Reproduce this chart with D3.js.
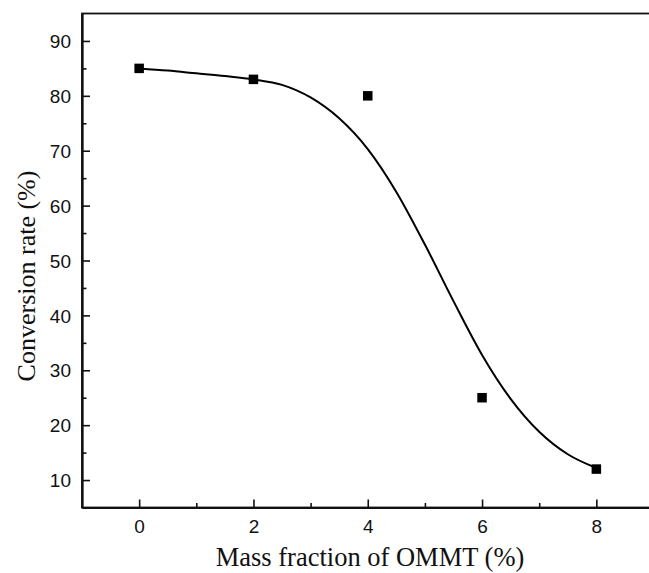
<!DOCTYPE html>
<html>
<head>
<meta charset="utf-8">
<script src="https://cdn.jsdelivr.net/npm/d3@7"></script>
<style>
  html, body { margin: 0; padding: 0; background: #fff; }
  svg { display: block; }
</style>
</head>
<body>
<svg id="chart" width="649" height="573"></svg>
<script>
// Measured conversion rate vs. OMMT mass fraction
const massFraction = [0, 2, 4, 6, 8];
const conversionRate = [85, 83, 80, 25, 12];

// Fitted sigmoidal trend line
const fitX = [0, 0.5, 1, 1.5, 2, 2.5, 3, 3.5, 4, 4.5, 5, 5.5, 6, 6.5, 7, 7.5, 8];
const fitY = [85.0, 84.6, 84.1, 83.6, 83.0, 82.0, 79.7, 75.9, 70.3, 62.5, 52.9, 42.6, 32.8, 24.8, 18.8, 14.7, 12.2];

// Axis ticks
const xMajorTicks = [0, 2, 4, 6, 8];
const xMinorTicks = [1, 3, 5, 7];
const yMajorTicks = [10, 20, 30, 40, 50, 60, 70, 80, 90];
const yMinorTicks = [15, 25, 35, 45, 55, 65, 75, 85];

const xTitle = "Mass fraction of OMMT (%)";
const yTitle = "Conversion rate (%)";

const svg = d3.select("#chart");
const plotLeft = 82, plotTop = 13.5, plotBottom = 507.5;
const xUnit = 57.15;

const x = d3.scaleLinear().domain([-1, 9]).range([plotLeft, plotLeft + 10 * xUnit]);
const y = d3.scaleLinear().domain([5, 95]).range([plotBottom, plotTop]);

const tickFont = "'Liberation Sans', Arial, sans-serif";
const titleFont = "'Liberation Serif', 'Times New Roman', serif";

// Frame (right edge falls beyond the canvas)
svg.append("rect")
  .attr("x", x(-1)).attr("y", y(95))
  .attr("width", x(9) - x(-1)).attr("height", y(5) - y(95))
  .attr("fill", "none").attr("stroke", "#111").attr("stroke-width", 1.8);

// Bottom axis
const gx = svg.append("g").attr("transform", `translate(0,${plotBottom})`);
gx.call(d3.axisBottom(x).tickValues(xMajorTicks).tickSizeInner(-8).tickSizeOuter(0).tickPadding(12.5).tickFormat(d3.format("d")));
gx.append("g").call(d3.axisBottom(x).tickValues(xMinorTicks).tickSizeInner(-4.5).tickSizeOuter(0).tickFormat(""));

// Left axis
const gy = svg.append("g").attr("transform", `translate(${plotLeft},0)`);
gy.call(d3.axisLeft(y).tickValues(yMajorTicks).tickSizeInner(-8).tickSizeOuter(0).tickPadding(11).tickFormat(d3.format("d")));
gy.append("g").call(d3.axisLeft(y).tickValues(yMinorTicks).tickSizeInner(-4.5).tickSizeOuter(0).tickFormat(""));

svg.selectAll(".domain").attr("stroke", "#111").attr("stroke-width", 1.8);
svg.selectAll(".tick line").attr("stroke", "#111").attr("stroke-width", 1.6);
svg.selectAll(".tick text")
  .attr("font-family", tickFont).attr("font-size", 19).attr("fill", "#111");
gy.selectAll(".tick text").attr("dy", "0.35em");

// Fitted curve
const fitData = fitX.map((d, i) => ({ x: d, y: fitY[i] }));
svg.append("path")
  .datum(fitData)
  .attr("fill", "none")
  .attr("stroke", "#000")
  .attr("stroke-width", 2)
  .attr("d", d3.line().x(d => x(d.x)).y(d => y(d.y)).curve(d3.curveMonotoneX));

// Data points
const sq = 9.5;
svg.append("g").selectAll("rect")
  .data(massFraction.map((d, i) => ({ x: d, y: conversionRate[i] })))
  .join("rect")
  .attr("x", d => x(d.x) - sq / 2)
  .attr("y", d => y(d.y) - sq / 2)
  .attr("width", sq).attr("height", sq)
  .attr("fill", "#000");

// Axis titles
svg.append("text")
  .attr("x", 370).attr("y", 566)
  .attr("text-anchor", "middle")
  .attr("font-family", titleFont).attr("font-size", 26.5).attr("fill", "#111")
  .text(xTitle);

svg.append("text")
  .attr("transform", "translate(35,276) rotate(-90)")
  .attr("text-anchor", "middle")
  .attr("font-family", titleFont).attr("font-size", 26).attr("fill", "#111")
  .text(yTitle);
</script>
</body>
</html>
